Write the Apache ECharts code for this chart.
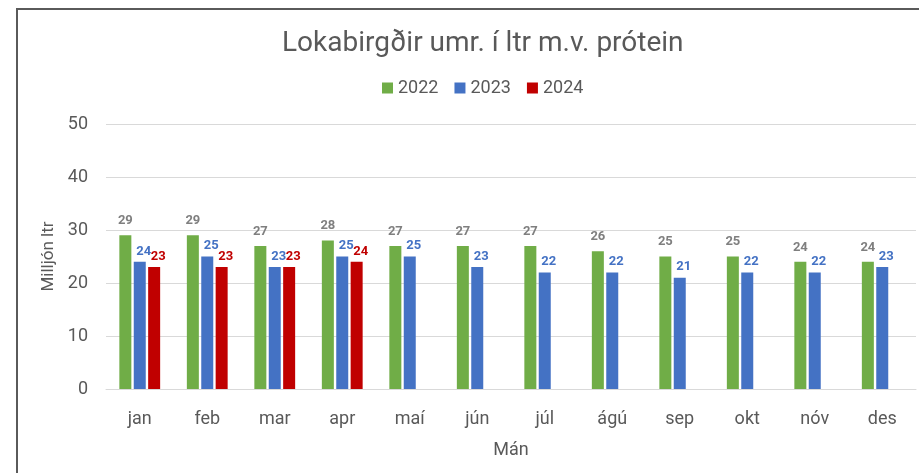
<!DOCTYPE html>
<html>
<head>
<meta charset="utf-8">
<script src="https://cdn.jsdelivr.net/npm/echarts@6/dist/echarts.min.js"></script>
<style>
  html, body { margin: 0; padding: 0; background: #fff; }
  #chart { width: 919px; height: 473px; }
  #frame { position: absolute; left: 16px; top: 8px; width: 910px; height: 470px;
           border-left: 2px solid #5a5a5a; border-top: 2px solid #5a5a5a; pointer-events: none; }
</style>
</head>
<body>
<div id="chart"></div>
<div id="frame"></div>
<script>
const months = ['jan', 'feb', 'mar', 'apr', 'maí', 'jún', 'júl', 'ágú', 'sep', 'okt', 'nóv', 'des'];
const years = ['2022', '2023', '2024'];
const values2022 = [29, 29, 27, 28, 27, 27, 27, 26, 25, 25, 24, 24];
const values2023 = [24, 25, 23, 25, 25, 23, 22, 22, 21, 22, 22, 23];
const values2024 = [23, 23, 23, 24, null, null, null, null, null, null, null, null];
const yTicks = [0, 10, 20, 30, 40, 50];

const colors = ['#70ad47', '#4472c4', '#c00000'];
const labelColors = ['#7f7f7f', '#4472c4', '#c00000'];
const font = 'Roboto, "Noto Sans", sans-serif';

const chart = echarts.init(document.getElementById('chart'), null, { renderer: 'canvas' });

function bar(name, data, i) {
  return {
    name,
    type: 'bar',
    data,
    barWidth: 12,
    barGap: '20%',
    itemStyle: { color: colors[i] },
    label: {
      show: true,
      position: 'top',
      distance: i === 0 ? 8 : 4,
      color: labelColors[i],
      fontFamily: font,
      fontWeight: 'bold',
      fontSize: 13,
      offset: i === 0 ? [0, 0] : [4, 0]
    }
  };
}

chart.setOption({
  animation: false,
  textStyle: { fontFamily: font },
  title: {
    text: 'Lokabirgðir umr. í ltr m.v. prótein',
    left: 277,
    top: 25,
    textStyle: { fontFamily: font, fontSize: 28, fontWeight: 'normal', color: '#595959' }
  },
  legend: {
    data: years,
    top: 74,
    left: 377,
    itemWidth: 11,
    itemHeight: 11,
    itemGap: 16,
    icon: 'rect',
    textStyle: { fontFamily: font, fontSize: 18, color: '#595959' }
  },
  grid: { left: 106, right: 3, top: 124, bottom: 84, containLabel: false },
  xAxis: {
    type: 'category',
    data: months,
    name: 'Mán',
    nameLocation: 'middle',
    nameGap: 52,
    nameTextStyle: { fontFamily: font, fontSize: 18, color: '#595959' },
    axisLine: { lineStyle: { color: '#d9d9d9' } },
    axisTick: { show: false },
    axisLabel: { fontFamily: font, fontSize: 18, color: '#595959', margin: 21 }
  },
  yAxis: {
    type: 'value',
    min: yTicks[0],
    max: yTicks[yTicks.length - 1],
    interval: 10,
    name: 'Milljón ltr',
    nameLocation: 'middle',
    nameGap: 47,
    nameTextStyle: { fontFamily: font, fontSize: 17, color: '#595959' },
    axisLine: { show: false },
    axisTick: { show: false },
    axisLabel: { fontFamily: font, fontSize: 18, color: '#595959', margin: 18 },
    splitLine: { lineStyle: { color: '#d9d9d9' } }
  },
  series: [
    bar(years[0], values2022, 0),
    bar(years[1], values2023, 1),
    bar(years[2], values2024, 2)
  ]
});
</script>
</body>
</html>
